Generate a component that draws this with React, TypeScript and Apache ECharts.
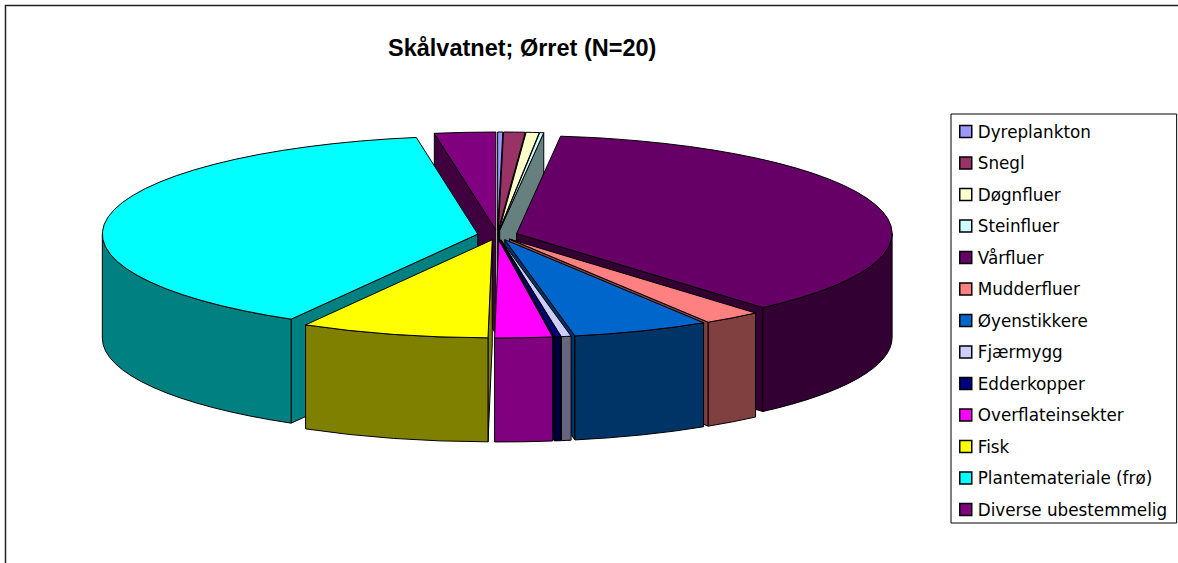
import React, { useEffect, useRef } from "react";
import * as echarts from "echarts";

const titleText = "Skålvatnet; Ørret (N=20)";
const categories = [
  "Dyreplankton", "Snegl", "Døgnfluer", "Steinfluer", "Vårfluer", "Mudderfluer", "Øyenstikkere",
  "Fjærmygg", "Edderkopper", "Overflateinsekter", "Fisk", "Plantemateriale (frø)", "Diverse ubestemmelig",
];
const values = [0.22, 0.92, 0.56, 0.17, 36.75, 2.5, 5.89, 0.42, 0.28, 2.47, 8.1, 39.1, 2.62];
const colors = [
  "#9999FF", "#993366", "#FFFFCC", "#CCFFFF", "#660066", "#FF8080", "#0066CC",
  "#CCCCFF", "#000080", "#FF00FF", "#FFFF00", "#00FFFF", "#800080",
];
const wallColors = [
  "#4D4D80", "#4D1A33", "#808066", "#668080", "#330033", "#804040", "#003366",
  "#666680", "#000040", "#800080", "#808000", "#008080", "#400040",
];

const CX = 497.5, CY = 235, RX = 375.5, RY = 98, DEPTH = 104, OFF_X = 20, OFF_Y = 5;
const total = values.reduce((a, b) => a + b, 0);
const rad = (d: number) => (d * Math.PI) / 180;

const spans: { a: number; b: number; mid: number }[] = [];
{
  let acc = 0;
  values.forEach((v) => {
    const a = (acc / total) * 360;
    acc += v;
    const b = (acc / total) * 360;
    spans.push({ a, b, mid: (a + b) / 2 });
  });
}

function slicePaths(i: number) {
  const { a, b, mid } = spans[i];
  const ax = CX + OFF_X * Math.sin(rad(mid));
  const ay = CY - OFF_Y * Math.cos(rad(mid));
  const p = (t: number, dy = 0) => [ax + RX * Math.sin(rad(t)), ay - RY * Math.cos(rad(t)) + dy];
  const s = (q: number[]) => `${q[0].toFixed(2)} ${q[1].toFixed(2)}`;
  const walls: string[] = [];
  const radial = (t: number) =>
    `M${s([ax, ay])}L${s(p(t))}L${s(p(t, DEPTH))}L${s([ax, ay + DEPTH])}Z`;
  if (Math.sin(rad(a)) < 0) walls.push(radial(a));
  if (Math.sin(rad(b)) > 0) walls.push(radial(b));
  const wa = Math.max(a, 90), wb = Math.min(b, 270);
  if (wa < wb) {
    const lg = wb - wa > 180 ? 1 : 0;
    walls.push(
      `M${s(p(wa))}A${RX} ${RY} 0 ${lg} 1 ${s(p(wb))}L${s(p(wb, DEPTH))}A${RX} ${RY} 0 ${lg} 0 ${s(p(wa, DEPTH))}Z`
    );
  }
  const lg = b - a > 180 ? 1 : 0;
  const top = `M${s([ax, ay])}L${s(p(a))}A${RX} ${RY} 0 ${lg} 1 ${s(p(b))}Z`;
  return { walls, top };
}

const depthRank = spans
  .map((sp, i) => ({ i, key: Math.cos(rad(sp.mid)) }))
  .sort((x, y) => y.key - x.key)
  .map((o) => o.i);

export default function App() {
  const ref = useRef<HTMLDivElement>(null);
  useEffect(() => {
    document.body.style.margin = "0";
    const chart = echarts.init(ref.current!, undefined, { renderer: "svg" });
    chart.setOption({
      animation: false,
      backgroundColor: "#fff",
      title: {
        text: titleText,
        left: 388,
        top: 36,
        textStyle: { fontFamily: "Liberation Sans", fontSize: 23.5, fontWeight: "bold", color: "#000" },
        padding: 0,
      },
      legend: {
        orient: "vertical",
        left: 951,
        top: 114,
        data: categories,
        icon: "rect",
        itemWidth: 12,
        itemHeight: 12,
        itemGap: 14.5,
        selectedMode: false,
        padding: [9, 9.5, 5, 8],
        borderColor: "#000",
        borderWidth: 1,
        backgroundColor: "#fff",
        itemStyle: { borderColor: "#000", borderWidth: 1.5 },
        textStyle: { fontFamily: "DejaVu Sans", fontSize: 16.8, color: "#000", padding: [0, 0, 0, 1] },
      },
      graphic: [
        {
          type: "rect",
          silent: true,
          z: -1,
          shape: { x: 5.5, y: 5.5, width: 1400, height: 800 },
          style: { fill: "#fff", stroke: "#222", lineWidth: 1.5 },
        },
      ],
      series: categories.map((name, i) => ({
        type: "custom",
        name,
        coordinateSystem: "none",
        silent: true,
        z: 2 + depthRank.indexOf(i),
        itemStyle: { color: colors[i] },
        data: [[values[i]]],
        renderItem: () => {
          const { walls, top } = slicePaths(i);
          return {
            type: "group",
            children: [
              ...walls.map((d) => ({
                type: "path",
                shape: { pathData: d },
                style: { fill: wallColors[i], stroke: "#000", lineWidth: 1 },
              })),
              {
                type: "path",
                shape: { pathData: top },
                style: { fill: colors[i], stroke: "#000", lineWidth: 1 },
              },
            ],
          };
        },
      })),
    });
    return () => chart.dispose();
  }, []);
  return <div ref={ref} style={{ position: "absolute", left: 0, top: 0, width: 1178, height: 563 }} />;
}
